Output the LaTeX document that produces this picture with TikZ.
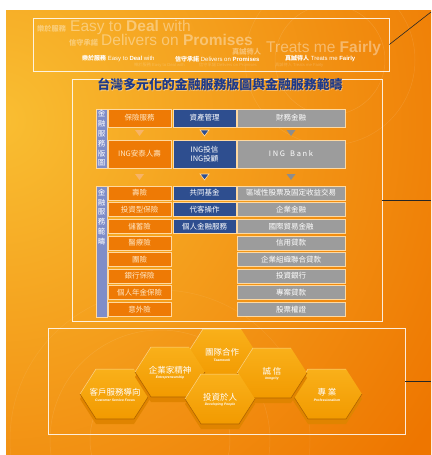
\documentclass[tikz,border=0pt]{standalone}
\usepackage{fontspec}
\setmainfont{Liberation Sans}
\newfontfamily\cjk{Noto Sans CJK TC}
\definecolor{bgor}{HTML}{EE7600}
\definecolor{bgyl}{HTML}{F9BE32}
\definecolor{ocell}{HTML}{EE7A05}
\definecolor{oedge}{HTML}{FFD9A0}
\definecolor{bcell}{HTML}{2E4E8F}
\definecolor{gcell}{HTML}{9C9C9C}
\definecolor{sidec}{HTML}{7F8DC8}
\definecolor{ttl}{HTML}{1E3A8A}
\definecolor{hexa}{HTML}{F9B01A}
\definecolor{hexb}{HTML}{F29A00}
\definecolor{hexd}{HTML}{E08400}
\definecolor{hexl}{HTML}{B06400}
\definecolor{otri}{HTML}{F7B468}
\tikzset{
  frame/.style={draw=white, draw opacity=0.85, line width=0.7pt, inner sep=0pt},
  conn/.style={draw=black!85, line width=0.6pt},
  big/.style={text=white, text opacity=0.38, inner sep=0pt, font=\fontsize{15.5}{16}\selectfont},
  bigcjk/.style={text=white, text opacity=0.38, inner sep=0pt, font=\cjk\bfseries\fontsize{7.2}{8}\selectfont},
  smalltxt/.style={text=white, inner sep=0pt, font=\fontsize{6}{7}\selectfont},
  refltxt/.style={text=white, text opacity=0.22, inner sep=0pt, font=\fontsize{4.2}{5}\selectfont},
  cell/.style={draw=oedge, line width=0.6pt, inner sep=0pt, align=center,
    font=\cjk\fontsize{7.5}{9.5}\selectfont},
  ocell/.style={cell, fill=ocell, text=oedge!60!white, minimum width=63pt},
  bcell/.style={cell, fill=bcell, text=white, minimum width=63pt},
  gcell/.style={cell, fill=gcell, text=white, minimum width=108pt},
  sidebox/.style={fill=sidec, draw=oedge, line width=0.6pt, inner sep=0pt, minimum width=11pt},
  sidetxt/.style={text=white, inner sep=0pt, font=\cjk\fontsize{7.5}{9.8}\selectfont, align=center},
  hexcn/.style={text=white, inner sep=0pt, font=\cjk\fontsize{8.5}{9}\selectfont},
  hexen/.style={text=white, inner sep=0pt, font=\itshape\bfseries\fontsize{3.4}{4}\selectfont},
}
\newcommand\hexcell[5]{%
  \fill[hexd] (#1-35,#2+5) -- (#1-19,#2-25+5) -- (#1+19,#2-25+5) -- (#1+35,#2+5) -- (#1+19,#2+25+5) -- (#1-19,#2+25+5) -- cycle;
  \shade[top color=hexa, bottom color=hexb] (#1-35,#2) -- (#1-19,#2-25) -- (#1+19,#2-25) -- (#1+35,#2) -- (#1+19,#2+25) -- (#1-19,#2+25) -- cycle;
  \draw[hexl, line width=0.6pt] (#1-35,#2) -- (#1-19,#2+25) -- (#1+19,#2+25) -- (#1+35,#2);
  \draw[white, opacity=0.5, line width=0.5pt] (#1-35,#2) -- (#1-19,#2-25) -- (#1+19,#2-25);
  \node[hexcn] (#3) at (#1,#2-2) {#4};
  \node[hexen] (#3e) at (#1,#2+6) {#5};
}
\begin{document}
\begin{tikzpicture}[x=1pt,y=-1pt]
\useasboundingbox (0,0) rectangle (431,455);
\fill[white] (0,0) rectangle (431,455);
\begin{scope}
  \clip (6,10) rectangle (431,455);
  \fill[bgor] (6,10) rectangle (431,455);
  \shade[inner color=bgyl, outer color=bgor] (-520,-420) rectangle (520,660);
  \draw[white, opacity=0.12, line width=0.5pt] (330,60) circle (55);
  \draw[white, opacity=0.10, line width=0.5pt] (330,60) circle (85);
  \draw[white, opacity=0.12, line width=0.5pt] (160,440) circle (70);
  \draw[white, opacity=0.10, line width=0.5pt] (160,440) circle (110);
  \draw[white, opacity=0.08, line width=0.5pt] (160,440) circle (150);
\end{scope}

% top slogan box
\node[frame, minimum width=356pt, minimum height=53pt] (topbox) at (211,44.5) {};
\node[bigcjk, anchor=west] (c1) at (37,29) {樂於服務};
\node[big, anchor=west] (e1) at (70,27) {Easy to \textbf{Deal} with};
\node[bigcjk, anchor=west] (c2) at (69,43) {信守承諾};
\node[big, anchor=west] (e2) at (101,40) {Delivers on \textbf{Promises}};
\node[bigcjk, anchor=west] (c3) at (232,52) {真誠待人};
\node[big, anchor=west] (e3) at (266,48) {Treats me \textbf{Fairly}};
\node[smalltxt, anchor=west] (s1) at (82,59) {{\cjk\bfseries 樂於服務} Easy to \textbf{Deal} with};
\node[smalltxt, anchor=west] (s2) at (175,59) {{\cjk\bfseries 信守承諾} Delivers on \textbf{Promises}};
\node[smalltxt, anchor=west] (s3) at (285,59) {{\cjk\bfseries 真誠待人} Treats me \textbf{Fairly}};
\node[refltxt, anchor=west] (r1) at (134,65) {{\cjk 樂於服務} Easy to Deal with};
\node[refltxt, anchor=west] (r2) at (199,65) {{\cjk 信守承諾} Delivers on Promises};
\node[refltxt, anchor=west] (r3) at (275,65) {{\cjk 真誠待人} Treats me Fairly};

% main box
\node[frame, minimum width=310pt, minimum height=242pt] (mainbox) at (227,200) {};
\node[text=white, text opacity=0.35, inner sep=0pt, font=\cjk\bfseries\fontsize{12.9}{13}\selectfont] (titleglow) at (220.6,85.6) {台灣多元化的金融服務版圖與金融服務範疇};
\node[text=ttl, inner sep=0pt, font=\cjk\bfseries\fontsize{12.9}{13}\selectfont] (title) at (220,85) {台灣多元化的金融服務版圖與金融服務範疇};

% upper block
\node[sidebox, minimum height=59pt] (sideA) at (101.5,138.5) {};
\node[sidetxt] (sideAt) at (sideA) {金\\融\\服\\務\\版\\圖};
\node[ocell, minimum height=18pt] (a1) at (139.5,118) {保險服務};
\node[bcell, minimum height=18pt] (a2) at (204.5,118) {資產管理};
\node[gcell, minimum height=18pt] (a3) at (291,118) {財務金融};
\node[ocell, minimum height=28pt] (b1) at (139.5,154) {ING安泰人壽};
\node[bcell, minimum height=28pt] (b2) at (204.5,154) {ING投信\\ING投顧};
\node[gcell, minimum height=28pt] (b3) at (291,154) {I N G\ \ \ B a n k};
\foreach \yy in {130,174}{
  \fill[otri] (135,\yy) -- (144,\yy) -- (139.5,\yy+6) -- cycle;
  \fill[bcell] (200,\yy) -- (209,\yy) -- (204.5,\yy+6) -- cycle;
  \fill[gcell!90!black] (286.5,\yy) -- (295.5,\yy) -- (291,\yy+6) -- cycle;
}

% lower block
\node[sidebox, minimum height=131pt] (sideB) at (101.5,251.5) {};
\node[sidetxt, anchor=north] (sideBt) at ([yshift=-3pt]sideB.north) {金\\融\\服\\務\\範\\疇};
\foreach \t [count=\i from 0] in {壽險,投資型保險,儲蓄險,醫療險,團險,銀行保險,個人年金保險,意外險}{
  \node[ocell, minimum height=14pt] (o\i) at (139.5,193+16.6*\i) {\t};
}
\foreach \t [count=\i from 0] in {共同基金,代客操作,個人金融服務}{
  \node[bcell, minimum height=14pt] (m\i) at (204.5,193+16.6*\i) {\t};
}
\foreach \t [count=\i from 0] in {區域性股票及固定收益交易,企業金融,國際貿易金融,信用貸款,企業組織聯合貸款,投資銀行,專案貸款,股票權證}{
  \node[gcell, minimum height=14pt] (g\i) at (291,193+16.6*\i) {\t};
}

% bottom values box
\node[frame, minimum width=357pt, minimum height=106pt] (botbox) at (226.5,381) {};
\hexcell{115}{394}{h1}{客戶服務導向}{Customer Service Focus}
\hexcell{327}{394}{h6}{專\ 業}{Professionalism}
\hexcell{222}{354}{h3}{團隊合作}{Teamwork}
\hexcell{170}{372}{h2}{企業家精神}{Entrepreneurship}
\hexcell{272}{373}{h5}{誠\ 信}{Integrity}
\hexcell{220}{399}{h4}{投資於人}{Developing People}

% connectors
\coordinate (q1) at (431,12);
\coordinate (q2) at (431,200);
\coordinate (q3) at (431,381);
\draw[conn] (topbox.east) -- (q1);
\draw[conn] (mainbox.east) -- (q2);
\draw[conn] (botbox.east) -- (q3);
\end{tikzpicture}
\end{document}
